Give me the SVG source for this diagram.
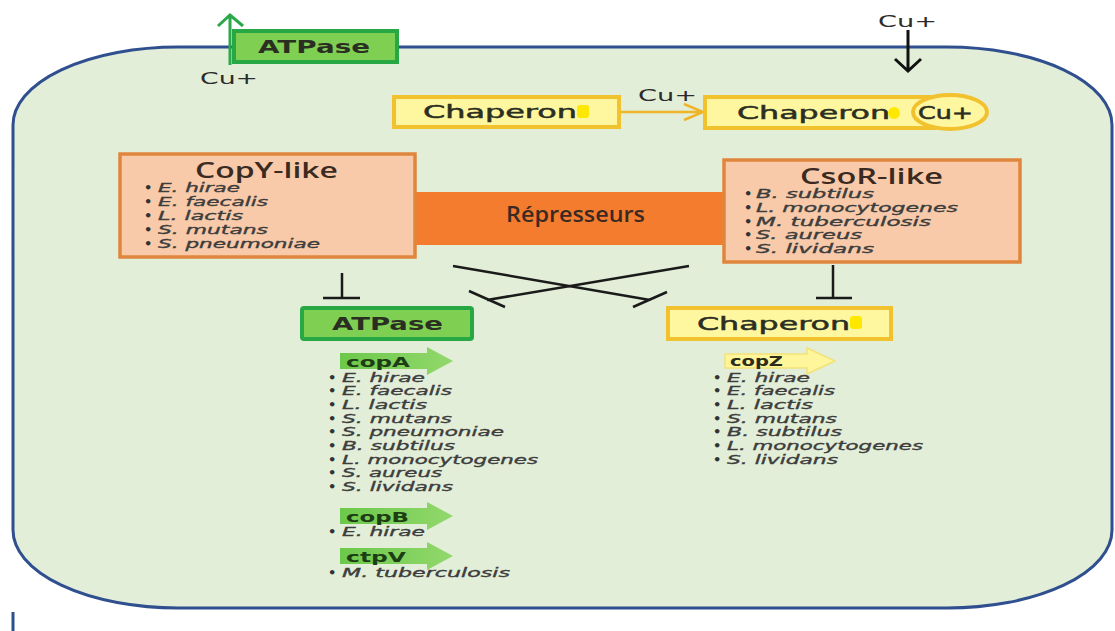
<svg xmlns="http://www.w3.org/2000/svg" width="1115" height="631" viewBox="0 0 1115 631">
<style>
.ttl{font-family:"DejaVu Sans",Verdana,sans-serif;font-weight:bold;fill:#2b2f22}
.ttlm{font-family:"DejaVu Sans",Verdana,sans-serif;fill:#2b2f22;stroke:#2b2f22;stroke-width:0.5}
.ttl2{font-family:"Open Sans","Liberation Sans",sans-serif;font-weight:600;fill:#3a2a22}
.sp{font-family:"DejaVu Sans",Verdana,sans-serif;font-style:italic;font-size:12.5px;fill:#3d3d3d;stroke:#3d3d3d;stroke-width:0.35}
.bul{font-family:"DejaVu Sans",sans-serif;font-size:13px;font-weight:bold;fill:#333}
.gene{font-family:"DejaVu Sans",Verdana,sans-serif;font-weight:bold;font-size:14px;fill:#1d3d14}
.cu{font-family:"DejaVu Sans",Verdana,sans-serif;font-size:15px;fill:#2b2b2b}
.green{fill:#7fcf52;stroke:#27a844;stroke-width:4}
.yel{fill:#fff7a0;stroke:#f2c12e;stroke-width:4}
.peach{fill:#f8caa9;stroke:#e0853c;stroke-width:3.5}
.inh{stroke:#1a1a1a;stroke-width:2.5;fill:none}
.dot{fill:#ffe800}
</style>
<defs>
<linearGradient id="ga" x1="0" x2="1" y1="0" y2="0"><stop offset="0" stop-color="#6cc84a"/><stop offset="1" stop-color="#92d86c"/></linearGradient>
</defs>
<g id="cell">
<rect x="13" y="47" width="1099" height="561" rx="165" ry="78" fill="#e2eed8" stroke="#2f4f8f" stroke-width="3"/>
<line x1="13" y1="612" x2="13" y2="631" stroke="#2f4f8f" stroke-width="3"/>
</g>
<g id="atpase-top">
<rect class="green" x="234" y="31" width="163" height="31"/>
<text class="ttl" x="258" y="53" font-size="17" textLength="112" lengthAdjust="spacingAndGlyphs">ATPase</text>
</g>
<g id="connectors">
<path d="M230 65 V16 M218 26 L230 15 L243 26" stroke="#2ba84a" stroke-width="3" fill="none"/>
<path d="M908 30 V70 M895 59 L908 71 L921 59" stroke="#111" stroke-width="3" fill="none"/>
<path d="M620 112 H703 M684 104 L703 112 L684 120" stroke="#f0b429" stroke-width="2.5" fill="none"/>
<path class="inh" d="M342 273 V298 M323 298 H360"/>
<path class="inh" d="M833 265 V298 M816 298 H852"/>
<path class="inh" d="M453 266 L650 300 M633 307 L667 292"/>
<path class="inh" d="M689 266 L487 300 M469 291 L505 307"/>
</g>
<text class="cu" x="200" y="84" textLength="58" lengthAdjust="spacingAndGlyphs">Cu+</text>
<text class="cu" x="878" y="27" textLength="59" lengthAdjust="spacingAndGlyphs">Cu+</text>
<text class="cu" x="638" y="101" textLength="59" lengthAdjust="spacingAndGlyphs">Cu+</text>
<g id="chaperone-1">
<rect class="yel" x="394" y="97" width="225" height="30"/>
<text class="ttlm" x="423" y="118" font-size="18" textLength="154" lengthAdjust="spacingAndGlyphs">Chaperon</text>
<rect class="dot" x="577" y="105" width="12" height="13" rx="3"/>
</g>
<g id="chaperone-cu">
<rect class="yel" x="705" y="97" width="230" height="31"/>
<ellipse class="yel" cx="950" cy="112" rx="37" ry="17"/>
<text class="ttlm" x="737" y="119" font-size="18" textLength="153" lengthAdjust="spacingAndGlyphs">Chaperon</text>
<circle class="dot" cx="894" cy="113" r="6"/>
<text class="ttlm" x="918" y="119" font-size="17" textLength="55" lengthAdjust="spacingAndGlyphs">Cu+</text>
</g>
<g id="repressors">
<rect x="414" y="192" width="311" height="53" fill="#f47c2e"/>
<text class="ttl2" x="506" y="222" font-size="21" font-weight="normal" textLength="139" lengthAdjust="spacingAndGlyphs">Répresseurs</text>
</g>
<g id="copy-like">
<rect class="peach" x="120" y="154" width="295" height="103"/>
<text class="ttl2" x="195" y="178" font-size="21" textLength="143" lengthAdjust="spacingAndGlyphs">CopY-like</text>
<text class="bul" x="144" y="192">•</text><text class="sp" x="158" y="192" textLength="82" lengthAdjust="spacingAndGlyphs">E. hirae</text>
<text class="bul" x="144" y="206">•</text><text class="sp" x="158" y="206" textLength="110" lengthAdjust="spacingAndGlyphs">E. faecalis</text>
<text class="bul" x="144" y="220">•</text><text class="sp" x="158" y="220" textLength="85" lengthAdjust="spacingAndGlyphs">L. lactis</text>
<text class="bul" x="144" y="234">•</text><text class="sp" x="158" y="234" textLength="110" lengthAdjust="spacingAndGlyphs">S. mutans</text>
<text class="bul" x="144" y="248">•</text><text class="sp" x="158" y="248" textLength="162" lengthAdjust="spacingAndGlyphs">S. pneumoniae</text>
</g>
<g id="csor-like">
<rect class="peach" x="724" y="160" width="296" height="102"/>
<text class="ttl2" x="800" y="184" font-size="21" textLength="143" lengthAdjust="spacingAndGlyphs">CsoR-like</text>
<text class="bul" x="744" y="198">•</text><text class="sp" x="756" y="198" textLength="118" lengthAdjust="spacingAndGlyphs">B. subtilus</text>
<text class="bul" x="744" y="212">•</text><text class="sp" x="756" y="212" textLength="202" lengthAdjust="spacingAndGlyphs">L. monocytogenes</text>
<text class="bul" x="744" y="226">•</text><text class="sp" x="756" y="226" textLength="175" lengthAdjust="spacingAndGlyphs">M. tuberculosis</text>
<text class="bul" x="744" y="239">•</text><text class="sp" x="756" y="239" textLength="106" lengthAdjust="spacingAndGlyphs">S. aureus</text>
<text class="bul" x="744" y="253">•</text><text class="sp" x="756" y="253" textLength="118" lengthAdjust="spacingAndGlyphs">S. lividans</text>
</g>
<g id="atpase-gene">
<rect class="green" x="302" y="308" width="170" height="31" rx="2"/>
<text class="ttl" x="332" y="330" font-size="18" textLength="111" lengthAdjust="spacingAndGlyphs">ATPase</text>
</g>
<g id="copA">
<path d="M340 353 H427 V347 L453 361 L427 375 V369 H340 Z" fill="url(#ga)"/>
<text class="gene" x="346" y="367" textLength="64" lengthAdjust="spacingAndGlyphs">copA</text>
<text class="bul" x="328" y="382">•</text><text class="sp" x="342" y="382" textLength="83" lengthAdjust="spacingAndGlyphs">E. hirae</text>
<text class="bul" x="328" y="395">•</text><text class="sp" x="342" y="395" textLength="110" lengthAdjust="spacingAndGlyphs">E. faecalis</text>
<text class="bul" x="328" y="409">•</text><text class="sp" x="342" y="409" textLength="85" lengthAdjust="spacingAndGlyphs">L. lactis</text>
<text class="bul" x="328" y="423">•</text><text class="sp" x="342" y="423" textLength="110" lengthAdjust="spacingAndGlyphs">S. mutans</text>
<text class="bul" x="328" y="436">•</text><text class="sp" x="342" y="436" textLength="162" lengthAdjust="spacingAndGlyphs">S. pneumoniae</text>
<text class="bul" x="328" y="450">•</text><text class="sp" x="342" y="450" textLength="113" lengthAdjust="spacingAndGlyphs">B. subtilus</text>
<text class="bul" x="328" y="464">•</text><text class="sp" x="342" y="464" textLength="196" lengthAdjust="spacingAndGlyphs">L. monocytogenes</text>
<text class="bul" x="328" y="477">•</text><text class="sp" x="342" y="477" textLength="100" lengthAdjust="spacingAndGlyphs">S. aureus</text>
<text class="bul" x="328" y="491">•</text><text class="sp" x="342" y="491" textLength="111" lengthAdjust="spacingAndGlyphs">S. lividans</text>
</g>
<g id="copB">
<path d="M340 508 H427 V502 L453 516 L427 530 V524 H340 Z" fill="url(#ga)"/>
<text class="gene" x="346" y="522" textLength="63" lengthAdjust="spacingAndGlyphs">copB</text>
<text class="bul" x="328" y="536">•</text><text class="sp" x="342" y="536" textLength="83" lengthAdjust="spacingAndGlyphs">E. hirae</text>
</g>
<g id="ctpV">
<path d="M340 548 H427 V542 L453 556 L427 570 V564 H340 Z" fill="url(#ga)"/>
<text class="gene" x="346" y="562" textLength="60" lengthAdjust="spacingAndGlyphs">ctpV</text>
<text class="bul" x="328" y="577">•</text><text class="sp" x="342" y="577" textLength="168" lengthAdjust="spacingAndGlyphs">M. tuberculosis</text>
</g>
<g id="chaperone-gene">
<rect class="yel" x="668" y="308" width="223" height="31"/>
<text class="ttlm" x="697" y="330" font-size="18" textLength="153" lengthAdjust="spacingAndGlyphs">Chaperon</text>
<rect class="dot" x="850" y="316" width="12" height="13" rx="3"/>
</g>
<g id="copZ">
<path d="M725 354 H807 V348 L835 361 L807 374 V368 H725 Z" fill="#fff59a" stroke="#f3e27a" stroke-width="1.5"/>
<text class="gene" x="730" y="366" textLength="53" lengthAdjust="spacingAndGlyphs" style="fill:#2b2b1a">copZ</text>
<text class="bul" x="713" y="382">•</text><text class="sp" x="727" y="382" textLength="83" lengthAdjust="spacingAndGlyphs">E. hirae</text>
<text class="bul" x="713" y="395">•</text><text class="sp" x="727" y="395" textLength="108" lengthAdjust="spacingAndGlyphs">E. faecalis</text>
<text class="bul" x="713" y="409">•</text><text class="sp" x="727" y="409" textLength="86" lengthAdjust="spacingAndGlyphs">L. lactis</text>
<text class="bul" x="713" y="423">•</text><text class="sp" x="727" y="423" textLength="110" lengthAdjust="spacingAndGlyphs">S. mutans</text>
<text class="bul" x="713" y="436">•</text><text class="sp" x="727" y="436" textLength="115" lengthAdjust="spacingAndGlyphs">B. subtilus</text>
<text class="bul" x="713" y="450">•</text><text class="sp" x="727" y="450" textLength="196" lengthAdjust="spacingAndGlyphs">L. monocytogenes</text>
<text class="bul" x="713" y="464">•</text><text class="sp" x="727" y="464" textLength="111" lengthAdjust="spacingAndGlyphs">S. lividans</text>
</g>
</svg>
